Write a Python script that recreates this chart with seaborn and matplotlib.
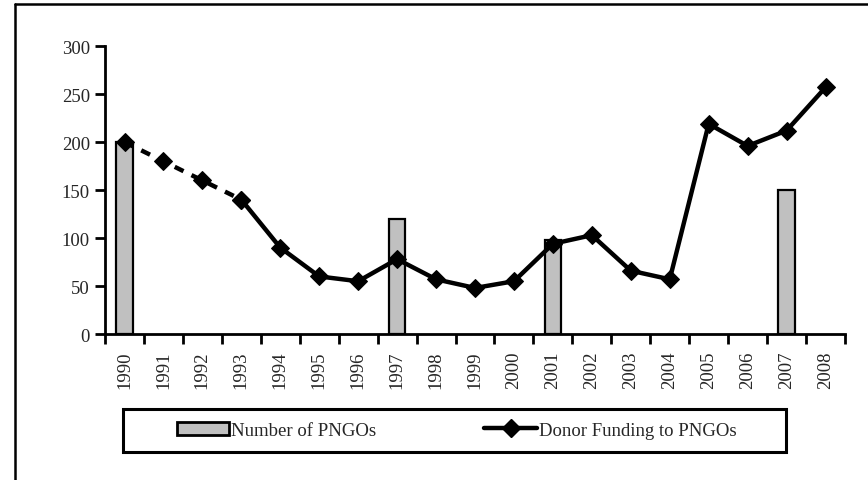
import numpy as np
import pandas as pd
import matplotlib.pyplot as plt
import seaborn as sns
from matplotlib.lines import Line2D
from matplotlib.patches import Patch, Rectangle

years = [str(y) for y in range(1990, 2009)]
pngo_years = ['1990', '1997', '2001', '2007']
pngo_counts = [200, 120, 98, 150]
funding = [200, 180, 160, 140, 90, 60, 55, 78, 57, 48, 55, 94, 103, 66, 57, 219, 196, 212, 257]
n_dashed = 4  # first points (1990-1993) drawn dashed

sns.set_style('white')
plt.rcParams['font.family'] = ['Liberation Serif', 'DejaVu Serif']

fig = plt.figure(figsize=(8.68, 4.81), dpi=100)
ax = fig.add_axes([0.121, 0.3035, 0.8525, 0.5985])

bars = pd.DataFrame({'year': pngo_years, 'count': pngo_counts})
sns.barplot(data=bars, x='year', y='count', order=years, color='#c0c0c0',
            edgecolor='black', linewidth=1.6, width=0.42, saturation=1, ax=ax)

line = pd.DataFrame({'pos': np.arange(len(years)), 'val': funding})
sns.lineplot(data=line.iloc[:n_dashed], x='pos', y='val', color='black', lw=3.2,
             marker='D', markersize=9.5, markeredgecolor='black',
             linestyle=(0, (2.2, 2.0)), ax=ax)
sns.lineplot(data=line.iloc[n_dashed - 1:], x='pos', y='val', color='black', lw=3.2,
             marker='D', markersize=9.5, markeredgecolor='black', ax=ax)

ax.set_xlim(-0.5, len(years) - 0.5)
ax.set_ylim(0, 300)
ax.set_xlabel('')
ax.set_ylabel('')
ax.set_yticks(range(0, 301, 50))
ax.set_xticks(range(len(years)))
ax.set_xticklabels(years, rotation=90)
ax.set_xticks(np.arange(-0.5, len(years), 1), minor=True)
ax.tick_params(axis='x', which='major', bottom=False, length=0, pad=12, labelsize=13.5)
ax.tick_params(axis='x', which='minor', bottom=True, length=7, width=2,
               direction='out', color='black')
ax.tick_params(axis='y', left=True, length=7, width=2, direction='out', color='black',
               labelsize=13.5, pad=4)
for s in ['top', 'right']:
    ax.spines[s].set_visible(False)
for s in ['left', 'bottom']:
    ax.spines[s].set_linewidth(2)
    ax.spines[s].set_color('black')

# legend box below the axes
ax.add_patch(Rectangle((0.024, -0.41), 0.896, 0.15, transform=ax.transAxes,
                       fill=False, edgecolor='black', lw=2.2, clip_on=False))
handles = [Patch(facecolor='#c0c0c0', edgecolor='black', lw=2),
           Line2D([], [], color='black', lw=3.2, marker='D', markersize=9.5)]
ax.legend(handles, ['Number of PNGOs', 'Donor Funding to PNGOs'], ncol=2,
          loc='center', bbox_to_anchor=(0.475, -0.335), frameon=False,
          fontsize=13.5, handlelength=2.8, handletextpad=0.1, columnspacing=5.76,
          handleheight=0.7)

# outer frame (left and top edges)
fig.add_artist(Line2D([15 / 868, 15 / 868], [0, 1 - 5 / 481], color='black', lw=1.8,
                      transform=fig.transFigure))
fig.add_artist(Line2D([15 / 868, 1], [1 - 5 / 481, 1 - 5 / 481], color='black', lw=1.8,
                      transform=fig.transFigure))

fig.savefig('out.png', dpi=100)
